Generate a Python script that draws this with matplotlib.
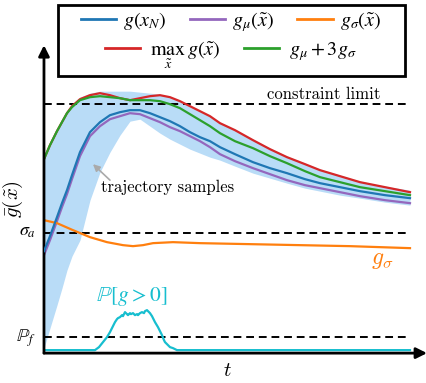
import matplotlib
matplotlib.use("Agg")
import matplotlib.pyplot as plt
from matplotlib.patches import Rectangle

plt.rcParams['font.family'] = 'serif'
plt.rcParams['font.serif'] = ['cmr10', 'DejaVu Serif']
plt.rcParams['mathtext.fontset'] = 'cm'
plt.rcParams['axes.unicode_minus'] = False

# shared time grid for the trajectory curves (arbitrary units)
t = [0.0, 0.6, 1.3, 1.8, 2.3, 2.8, 3.6, 4.6, 5.6, 6.6, 7.6, 8.6, 9.6, 10.6, 11.6,
     12.6, 13.6, 14.6, 15.6, 16.6, 17.6, 19.1, 20.9, 22.6, 24.3, 26.1, 27.6,
     29.6, 31.6, 34.1, 36.6]

g_nominal = [1.02, 1.17, 1.36, 1.50, 1.63, 1.78, 2.01, 2.21, 2.31, 2.38, 2.41, 2.43,
             2.43, 2.40, 2.36, 2.32, 2.27, 2.21, 2.16, 2.12, 2.06, 1.99, 1.91, 1.85,
             1.80, 1.74, 1.70, 1.66, 1.62, 1.58, 1.55]
g_mu = [0.98, 1.13, 1.32, 1.46, 1.59, 1.74, 1.97, 2.17, 2.27, 2.34, 2.37, 2.40,
        2.39, 2.35, 2.31, 2.26, 2.22, 2.17, 2.12, 2.06, 1.99, 1.92, 1.85, 1.79,
        1.73, 1.68, 1.65, 1.61, 1.57, 1.53, 1.50]
g_max = [1.94, 2.08, 2.22, 2.31, 2.40, 2.47, 2.54, 2.58, 2.60, 2.58, 2.55, 2.53,
         2.55, 2.57, 2.58, 2.56, 2.52, 2.47, 2.42, 2.37, 2.30, 2.23, 2.13, 2.04,
         1.96, 1.89, 1.83, 1.77, 1.71, 1.66, 1.61]
g_mu3sig = [1.94, 2.08, 2.22, 2.31, 2.40, 2.46, 2.53, 2.56, 2.57, 2.56, 2.55, 2.53,
            2.53, 2.53, 2.52, 2.49, 2.45, 2.39, 2.33, 2.27, 2.20, 2.12, 2.05, 1.97,
            1.90, 1.82, 1.76, 1.71, 1.66, 1.62, 1.58]
band_hi = [1.94, 2.08, 2.23, 2.33, 2.42, 2.49, 2.56, 2.60, 2.62, 2.62, 2.62, 2.62,
           2.61, 2.60, 2.59, 2.56, 2.52, 2.47, 2.42, 2.37, 2.31, 2.23, 2.14, 2.05,
           1.97, 1.90, 1.84, 1.78, 1.72, 1.67, 1.63]
band_lo = [0.05, 0.25, 0.48, 0.65, 0.83, 0.97, 1.13, 1.53, 1.81, 2.01, 2.18, 2.32,
           2.34, 2.27, 2.20, 2.14, 2.09, 2.04, 2.00, 1.96, 1.93, 1.87, 1.80, 1.75,
           1.70, 1.65, 1.62, 1.58, 1.55, 1.51, 1.48]

t_sigma = [0.0, 1.3, 2.9, 4.6, 6.3, 7.9, 8.9, 9.9, 10.9, 12.9, 15.6, 20.6, 25.6, 30.6, 36.6]
g_sigma = [1.33, 1.30, 1.23, 1.16, 1.11, 1.08, 1.07, 1.08, 1.10, 1.11, 1.10, 1.09,
           1.08, 1.07, 1.05]

t_prob = [0.0, 5.1, 5.5, 5.9, 6.3, 6.6, 6.9, 7.1, 7.3, 7.4, 7.6, 7.8, 7.9, 8.1, 8.3,
          8.4, 8.6, 8.7, 8.9, 9.1, 9.3, 9.4, 9.6, 9.8, 10.0, 10.1, 10.3, 10.5, 10.6,
          10.8, 10.9, 11.1, 11.4, 11.6, 11.8, 12.0, 12.1, 12.4, 12.6, 12.9, 13.3, 36.6]
p_fail = [0.03, 0.03, 0.06, 0.11, 0.16, 0.21, 0.27, 0.31, 0.34, 0.35, 0.36, 0.38,
          0.37, 0.41, 0.39, 0.38, 0.40, 0.39, 0.40, 0.38, 0.39, 0.38, 0.40, 0.41,
          0.40, 0.42, 0.43, 0.41, 0.40, 0.37, 0.35, 0.31, 0.26, 0.22, 0.18, 0.13,
          0.11, 0.08, 0.06, 0.05, 0.03, 0.03]

constraint_limit = 2.49
sigma_a = 1.20
p_f = 0.16

fig = plt.figure(figsize=(4.27, 3.83), dpi=100)
ax = fig.add_axes([0.103, 0.078, 0.897, 0.804])

ax.fill_between(t, band_lo, band_hi, color='#b9dcf7', lw=0, zorder=1)

for y in [constraint_limit, sigma_a, p_f]:
    ax.plot([t[0], t[-1]], [y, y], color='k', lw=1.4, ls=(0, (4, 2.5)), zorder=2)

ax.plot(t, g_max, color='#d62728', lw=1.6, zorder=3)
ax.plot(t, g_mu3sig, color='#2ca02c', lw=1.6, zorder=3)
ax.plot(t, g_nominal, color='#1f77b4', lw=1.6, zorder=4)
ax.plot(t, g_mu, color='#9467bd', lw=1.6, zorder=3)
ax.plot(t_sigma, g_sigma, color='#ff7f0e', lw=1.6, zorder=3)
ax.plot(t_prob, p_fail, color='#17becf', lw=1.6, zorder=3)

ax.set_xlim(0, 38.3)
ax.set_ylim(0, 3.08)
for s in ax.spines.values():
    s.set_visible(False)
ax.set_xticks([])
ax.set_yticks([sigma_a + 0.03, p_f + 0.03])
ax.set_yticklabels([r'$\sigma_a$', r'$\mathbb{P}_f$'], fontsize=13, math_fontfamily='stix')
ax.tick_params(axis='y', length=0, pad=6)

# axes with arrow heads
ax.annotate('', xy=(1, 0), xytext=(0, 0), xycoords='axes fraction',
            arrowprops=dict(arrowstyle='-|>', lw=2, color='k', mutation_scale=16,
                            shrinkA=0, shrinkB=0))
ax.annotate('', xy=(0, 1), xytext=(0, 0), xycoords='axes fraction',
            arrowprops=dict(arrowstyle='-|>', lw=2, color='k', mutation_scale=16,
                            shrinkA=0, shrinkB=0))

ax.text(27.95, 2.59, 'constraint limit', fontsize=12, ha='center', va='center')
ax.text(12.4, 1.66, 'trajectory samples', fontsize=12, ha='center', va='center')
ax.annotate('', xy=(4.9, 1.89), xytext=(6.6, 1.73),
            arrowprops=dict(arrowstyle='-|>', color='#aaaaaa', lw=1.2,
                            mutation_scale=10, shrinkA=0, shrinkB=0))
ax.text(33.8, 0.93, r'$g_\sigma$', fontsize=17, color='#ff7f0e', ha='center', va='center')
ax.text(8.8, 0.57, r'$\mathbb{P}[g > 0]$', fontsize=15.5, color='#17becf',
        ha='center', va='center', math_fontfamily='stix')

fig.text(13 / 427, 1 - 199 / 383, r'$\bar{g}(\tilde{x})$', fontsize=15,
         rotation=90, ha='center', va='center')
fig.text(227 / 427, 1 - 371 / 383, r'$t$', fontsize=15, ha='center', va='center')

# legend box with two centred rows
fig.patches.append(Rectangle((58 / 427, 1 - 76 / 383), 347 / 427, 71 / 383,
                             transform=fig.transFigure, fill=False, lw=2,
                             edgecolor='k'))
h = {name: plt.Line2D([], [], color=c, lw=2) for name, c in
     [('nom', '#1f77b4'), ('mu', '#9467bd'), ('sig', '#ff7f0e'),
      ('max', '#d62728'), ('mu3', '#2ca02c')]}
leg_prop = dict(size=14.5, math_fontfamily='stix')
fig.legend([h['nom'], h['mu'], h['sig']],
           [r'$g(x_N)$', r'$g_\mu(\tilde{x})$', r'$g_\sigma(\tilde{x})$'],
           loc='center', bbox_to_anchor=(231 / 427, 1 - 22 / 383), ncol=3,
           frameon=False, prop=leg_prop, handlelength=1.75, handletextpad=0.35,
           columnspacing=1.15, borderpad=0, borderaxespad=0)
fig.legend([h['max'], h['mu3']],
           [r'$\max_{\tilde{x}}\, g(\tilde{x})$', r'$g_\mu + 3g_\sigma$'],
           loc='center', bbox_to_anchor=(231 / 427, 1 - 55 / 383), ncol=2,
           frameon=False, prop=leg_prop, handlelength=1.75, handletextpad=0.5,
           columnspacing=1.15, borderpad=0, borderaxespad=0)

fig.savefig('out.png', dpi=100)
